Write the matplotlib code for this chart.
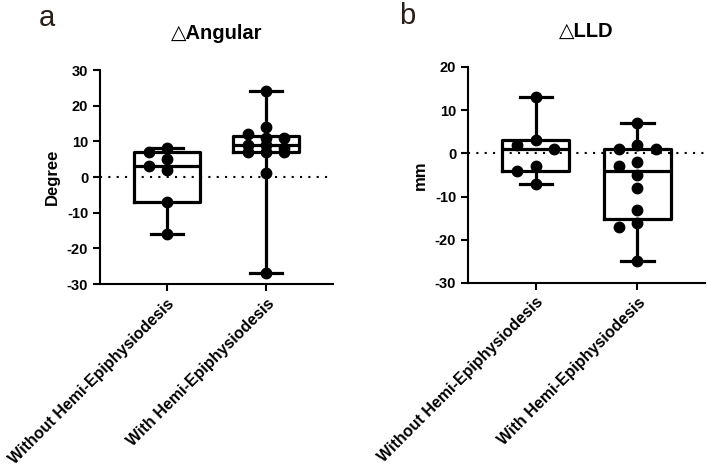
import matplotlib
matplotlib.use('Agg')
import matplotlib.pyplot as plt
import numpy as np

plt.rcParams['font.family'] = ['Liberation Sans', 'DejaVu Sans']
plt.rcParams['axes.unicode_minus'] = False

# data
groups = ['Without Hemi-Epiphysiodesis', 'With Hemi-Epiphysiodesis']
angular_without = [-16, -7, 2, 3, 5, 7, 8]
angular_with = [-27, 1, 7, 7, 7, 8, 9, 9, 11, 11, 12, 14, 24]
lld_without = [-7, -4, -3, 1, 2, 3, 13]
lld_with = [-25, -17, -16, -13, -8, -5, -3, -2, 1, 1, 2, 7]


def box_stats(vals):
    v = np.sort(np.asarray(vals, dtype=float))
    q1, med, q3 = np.percentile(v, [25, 50, 75], method='weibull')
    return dict(med=med, q1=q1, q3=q3, whislo=v.min(), whishi=v.max(), fliers=[])


def swarm_offsets(ax, vals, pos, step=0.18, min_px=10):
    # simple swarm: move a point sideways if it overlaps one already placed,
    # otherwise take the least crowded of three columns
    order = np.argsort(vals)[::-1]
    placed = []
    offs = np.zeros(len(vals))
    cands = [0, -step, step]
    for i in order:
        best, best_d = 0, -1
        for c in cands:
            p = ax.transData.transform((pos + c, vals[i]))
            d = min([np.hypot(*(p - q)) for q in placed], default=1e9)
            if d >= min_px:
                best = c
                break
            if d > best_d:
                best, best_d = c, d
        offs[i] = best
        placed.append(ax.transData.transform((pos + best, vals[i])))
    return offs


def draw_panel(ax, data, title, ylabel, ylim):
    ax.set_xlim(-0.667, 1.667)
    ax.set_ylim(*ylim)
    ax.axhline(0, color='black', lw=1.5, ls=(0, (1, 3)), zorder=1)
    stats = [box_stats(d) for d in data]
    lw = 2.3
    ax.bxp(stats, positions=[0, 1], widths=0.66, capwidths=0.32,
           showfliers=False,
           boxprops=dict(color='black', lw=lw),
           whiskerprops=dict(color='black', lw=lw),
           capprops=dict(color='black', lw=lw),
           medianprops=dict(color='black', lw=lw))
    for pos, d in enumerate(data):
        d = np.asarray(d, dtype=float)
        offs = swarm_offsets(ax, d, pos)
        ax.plot(pos + offs, d, 'o', color='black', ms=7.5, zorder=3)

    ax.set_yticks(np.arange(ylim[0], ylim[1] + 1, 10))
    ax.set_xticks([0, 1])
    ax.set_xticklabels(groups, rotation=45, ha='right', rotation_mode='anchor',
                       fontsize=11.5, fontweight='bold')
    for t in ax.get_yticklabels():
        t.set_fontweight('bold')
        t.set_fontsize(10.5)
    ax.tick_params(width=1.5, length=5, color='black')
    for s in ['top', 'right']:
        ax.spines[s].set_visible(False)
    for s in ['left', 'bottom']:
        ax.spines[s].set_linewidth(1.5)
    ax.set_title(title, fontsize=14.5, fontweight='bold', pad=22)
    ax.set_ylabel(ylabel, fontsize=12, fontweight='bold', labelpad=5)


fig = plt.figure(figsize=(7.07, 4.70), dpi=100)
ax1 = fig.add_axes([0.1414, 0.3957, 0.3296, 0.4553])
ax2 = fig.add_axes([0.6620, 0.3979, 0.3352, 0.4596])

draw_panel(ax1, [angular_without, angular_with], '\u25b3Angular', 'Degree', (-30, 30))
draw_panel(ax2, [lld_without, lld_with], '\u25b3LLD', 'mm', (-30, 20))

fig.text(0.055, 0.945, 'a', fontsize=21, color='#2a1e17', va='baseline')
fig.text(0.565, 0.950, 'b', fontsize=21, color='#2a1e17', va='baseline')

fig.savefig('out.png', dpi=100)
